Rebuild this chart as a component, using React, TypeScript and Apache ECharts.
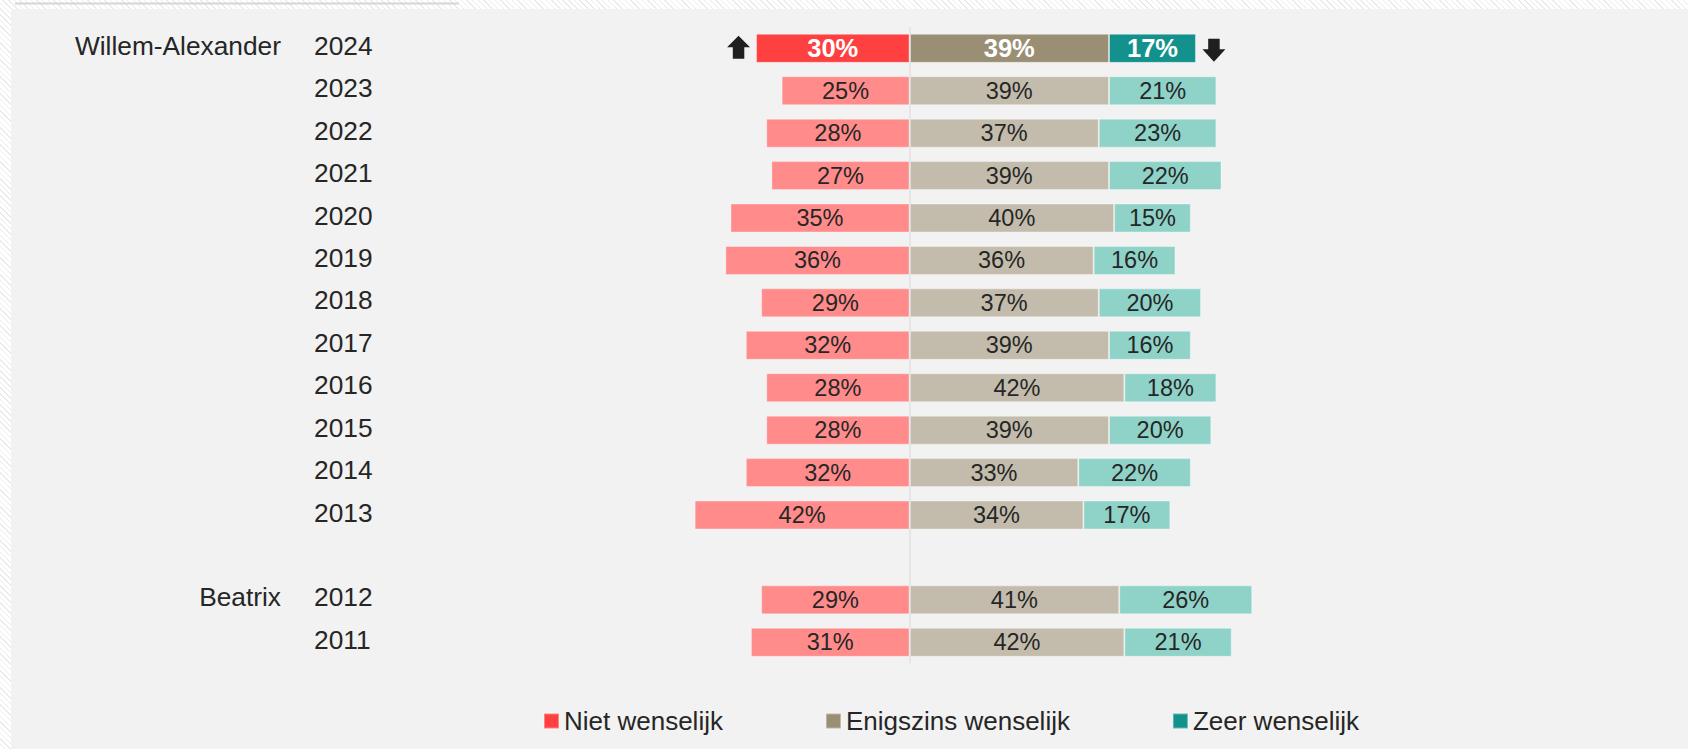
import React, { useEffect, useRef } from "react";
import * as echarts from "echarts";

// ---- data ----
const years = ["2024", "2023", "2022", "2021", "2020", "2019", "2018", "2017", "2016", "2015", "2014", "2013", "2012", "2011"];
const reign = [
  "Willem-Alexander", "Willem-Alexander", "Willem-Alexander", "Willem-Alexander",
  "Willem-Alexander", "Willem-Alexander", "Willem-Alexander", "Willem-Alexander",
  "Willem-Alexander", "Willem-Alexander", "Willem-Alexander", "Willem-Alexander",
  "Beatrix", "Beatrix",
];
const nietWenselijk = [30, 25, 28, 27, 35, 36, 29, 32, 28, 28, 32, 42, 29, 31];
const enigszinsWenselijk = [39, 39, 37, 39, 40, 36, 37, 39, 42, 39, 33, 34, 41, 42];
const zeerWenselijk = [17, 21, 23, 22, 15, 16, 20, 16, 18, 20, 22, 17, 26, 21];
const seriesNames = ["Niet wenselijk", "Enigszins wenselijk", "Zeer wenselijk"];
const highlightYear = "2024";

// ---- styles ----
const FONT = "'Liberation Sans', Arial, sans-serif";
const TEXT = "#262626";
const darkColors = ["#ff4040", "#9a8f75", "#13918d"];
const lightColors = ["#ff8b8b", "#c3bcac", "#8fd3c8"];

export default function App() {
  const ref = useRef<HTMLDivElement>(null);

  useEffect(() => {
    if (!ref.current) return;
    const chart = echarts.init(ref.current, null, { renderer: "svg" });

    // build categories with a spacer between reigns
    const cats: string[] = [];
    const groupLabels: string[] = [];
    const rowIndex: number[] = [];
    years.forEach((y, i) => {
      if (i > 0 && reign[i] !== reign[i - 1]) {
        cats.push(" ");
        groupLabels.push(" ");
        rowIndex.push(-1);
      }
      cats.push(y);
      groupLabels.push(i === 0 || reign[i] !== reign[i - 1] ? reign[i] : " ");
      rowIndex.push(i);
    });

    const mkData = (vals: number[], s: number, sign: number) =>
      rowIndex.map((ri) => {
        if (ri < 0) return "-";
        const hi = years[ri] === highlightYear;
        return {
          value: sign * vals[ri],
          itemStyle: { color: hi ? darkColors[s] : lightColors[s] },
          label: hi
            ? { color: "#ffffff", fontWeight: "bold", fontSize: 25.5 }
            : { color: TEXT, fontWeight: "normal", fontSize: 23.5 },
        };
      });

    const hiIdx = years.indexOf(highlightYear);
    const hiCat = cats.indexOf(highlightYear);

    const barBase = {
      type: "bar",
      stack: "total",
      barWidth: 29,
      itemStyle: { borderColor: "rgba(255,255,255,0.35)", borderWidth: 1 },
      label: {
        show: true,
        position: "inside",
        fontFamily: FONT,
        formatter: (p: any) => Math.abs(p.value) + "%",
      },
      emphasis: { disabled: true },
    };

    const axisLabelBase = {
      interval: 0,
      fontSize: 26.3,
      color: TEXT,
      fontFamily: FONT,
    };
    const hiddenCat = {
      axisLine: { show: false },
      axisTick: { show: false },
      splitLine: { show: false },
    };

    const option: any = {
      animation: false,
      backgroundColor: "transparent",
      textStyle: { fontFamily: FONT },
      graphic: [
        { type: "rect", z: -10, shape: { x: 11, y: 9, width: 1677, height: 740 }, style: { fill: "#f2f2f2" }, silent: true },
        { type: "rect", z: -10, shape: { x: 15, y: 2.5, width: 444, height: 2 }, style: { fill: "#d6d6d6" }, silent: true },
      ],
      legend: {
        data: seriesNames,
        left: 538,
        top: 703,
        icon: "rect",
        itemWidth: 15,
        itemHeight: 15,
        itemGap: 102,
        textStyle: { fontSize: 26, color: TEXT, fontFamily: FONT },
        selectedMode: false,
      },
      grid: [
        { left: 398, width: 1023, top: 27.1, height: 636.4 },
        { left: 398, width: 1023, top: 24.6, height: 636.4 },
      ],
      xAxis: [
        { type: "value", min: -100, max: 100, show: false, gridIndex: 0 },
        { type: "value", min: -100, max: 100, show: false, gridIndex: 1 },
      ],
      yAxis: [
        {
          type: "category",
          gridIndex: 0,
          data: cats,
          inverse: true,
          ...hiddenCat,
          axisLabel: { show: false },
        },
        {
          type: "category",
          gridIndex: 1,
          data: cats,
          inverse: true,
          ...hiddenCat,
          axisLabel: { ...axisLabelBase, align: "left", margin: 84 },
        },
        {
          type: "category",
          gridIndex: 1,
          data: groupLabels,
          inverse: true,
          position: "left",
          ...hiddenCat,
          axisLabel: { ...axisLabelBase, align: "right", margin: 117 },
        },
      ],
      series: [
        { ...barBase, name: seriesNames[0], color: darkColors[0], data: mkData(nietWenselijk, 0, -1) },
        { ...barBase, name: seriesNames[1], color: darkColors[1], data: mkData(enigszinsWenselijk, 1, 1) },
        { ...barBase, name: seriesNames[2], color: darkColors[2], data: mkData(zeerWenselijk, 2, 1) },
        {
          type: "scatter",
          name: "up",
          z: 5,
          symbol: "path://M12,0 L24,12 L18,12 L18,24 L6,24 L6,12 L0,12 Z",
          symbolSize: [23, 23],
          symbolOffset: [-17.5, -1],
          itemStyle: { color: "#1f1f1f", opacity: 1 },
          data: [[-nietWenselijk[hiIdx], hiCat]],
          emphasis: { disabled: true },
          markLine: {
            silent: true,
            symbol: "none",
            label: { show: false },
            lineStyle: { color: "#e2e2e2", width: 1.5, type: "solid", opacity: 1 },
            data: [{ xAxis: 0 }],
          },
        },
        {
          type: "scatter",
          name: "down",
          z: 5,
          symbol: "path://M6,0 L18,0 L18,11 L24,11 L12,24 L0,11 L6,11 Z",
          symbolSize: [23, 23],
          symbolOffset: [18, 2],
          itemStyle: { color: "#1f1f1f", opacity: 1 },
          data: [[enigszinsWenselijk[hiIdx] + zeerWenselijk[hiIdx], hiCat]],
          emphasis: { disabled: true },
        },
      ],
    };

    chart.setOption(option);
    return () => chart.dispose();
  }, []);

  return (
    <div
      style={{
        position: "absolute",
        left: 0,
        top: 0,
        width: 1688,
        height: 749,
        background: "repeating-linear-gradient(45deg, #ffffff 0px, #ffffff 3px, #ebebeb 3px, #ebebeb 4px)",
      }}
    >
      <div ref={ref} style={{ width: 1688, height: 749 }} />
    </div>
  );
}
